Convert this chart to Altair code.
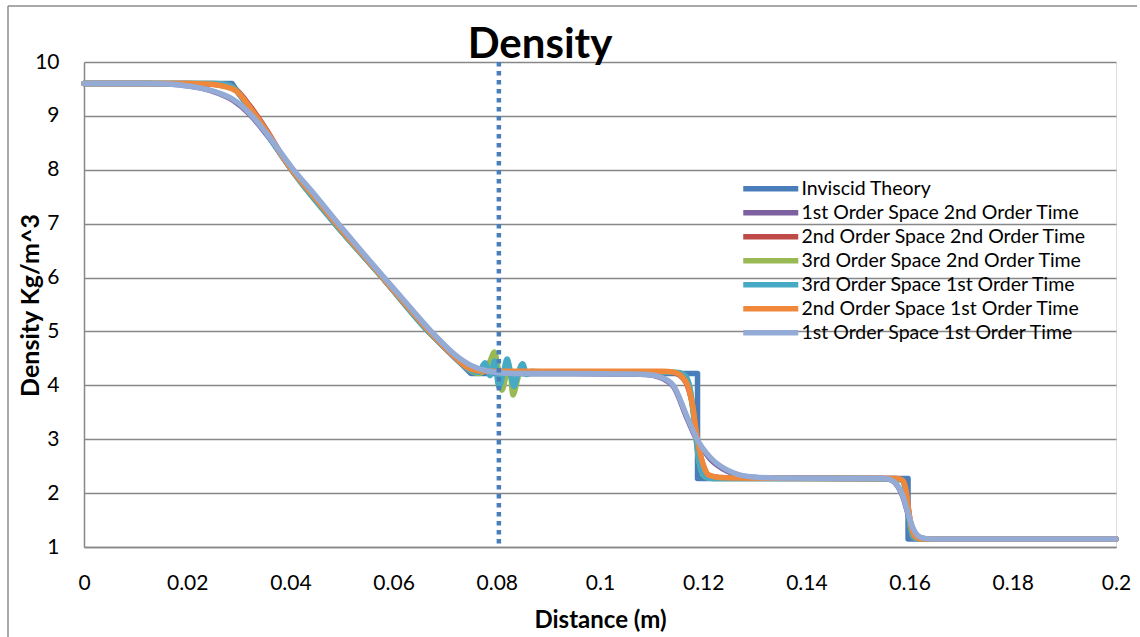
import altair as alt
import pandas as pd

# ---- data ----
series_names = [
    "Inviscid Theory",
    "1st Order Space 2nd Order Time",
    "2nd Order Space 2nd Order Time",
    "3rd Order Space 2nd Order Time",
    "3rd Order Space 1st Order Time",
    "2nd Order Space 1st Order Time",
    "1st Order Space 1st Order Time",
]
series_colors = ["#4A7EBB", "#7D60A0", "#BE4B48", "#98B954", "#46AAC5", "#F0883C", "#94ABD5"]

x_inv = [0, 0.0287, 0.0331, 0.0386, 0.0402, 0.0486, 0.0578, 0.0667, 0.0712, 0.0750, 0.1189, 0.1189, 0.1597, 0.1597, 0.2]
y_inv = [9.6, 9.6, 9.0, 8.22, 8.0, 7.0, 6.0, 5.0, 4.58, 4.22, 4.22, 2.27, 2.27, 1.15, 1.15]

x_lb = [0, 0.012, 0.016, 0.019, 0.0225, 0.026, 0.029, 0.0322, 0.0355, 0.0386,
        0.0402, 0.044, 0.050, 0.056, 0.062, 0.068, 0.072, 0.075, 0.078, 0.081,
        0.085, 0.095, 0.105, 0.109, 0.1115, 0.113, 0.1142, 0.1169, 0.1188, 0.1213,
        0.1246, 0.127, 0.130, 0.134, 0.150, 0.155, 0.1565, 0.1578, 0.1587, 0.1597,
        0.1607, 0.1616, 0.1628, 0.165, 0.2]
y_lb = [9.6, 9.6, 9.59, 9.57, 9.52, 9.43, 9.3, 9.04, 8.66, 8.26,
        8.05, 7.62, 6.92, 6.24, 5.58, 4.93, 4.56, 4.37, 4.27, 4.23,
        4.22, 4.22, 4.21, 4.2, 4.16, 4.1, 4.0, 3.41, 3.0, 2.67,
        2.43, 2.34, 2.3, 2.28, 2.27, 2.27, 2.24, 2.12, 1.95, 1.63,
        1.34, 1.21, 1.16, 1.15, 1.15]

x_pu = x_lb
y_pu = [9.6, 9.6, 9.59, 9.57, 9.52, 9.42, 9.28, 9.02, 8.64, 8.24,
        8.03, 7.6, 6.9, 6.22, 5.56, 4.91, 4.54, 4.35, 4.26, 4.23,
        4.22, 4.22, 4.21, 4.2, 4.15, 4.08, 3.98, 3.38, 2.98, 2.64,
        2.41, 2.33, 2.29, 2.28, 2.27, 2.27, 2.24, 2.11, 1.93, 1.61,
        1.32, 1.2, 1.16, 1.15, 1.15]

x_or = [0, 0.020, 0.024, 0.027, 0.0295, 0.0322, 0.0355, 0.0386, 0.0402, 0.044,
        0.050, 0.056, 0.062, 0.068, 0.072, 0.074, 0.0765, 0.079, 0.085, 0.105,
        0.112, 0.1145, 0.116, 0.117, 0.118, 0.1187, 0.1195, 0.1203, 0.121, 0.123,
        0.126, 0.150, 0.1575, 0.1588, 0.1594, 0.1598, 0.1603, 0.161, 0.162, 0.2]
y_or = [9.6, 9.6, 9.59, 9.55, 9.46, 9.15, 8.70, 8.23, 8.01, 7.57,
        6.87, 6.21, 5.54, 4.89, 4.52, 4.35, 4.27, 4.26, 4.26, 4.26,
        4.26, 4.24, 4.15, 4.0, 3.6, 3.1, 2.7, 2.45, 2.34, 2.29,
        2.28, 2.27, 2.27, 2.22, 2.0, 1.7, 1.4, 1.2, 1.15, 1.15]

x_rd = x_or
y_rd = [9.6, 9.6, 9.59, 9.56, 9.48, 9.18, 8.72, 8.23, 8.0, 7.56,
        6.86, 6.2, 5.53, 4.88, 4.5, 4.33, 4.25, 4.25, 4.25, 4.25,
        4.25, 4.23, 4.14, 3.98, 3.58, 3.08, 2.68, 2.44, 2.33, 2.29,
        2.28, 2.27, 2.27, 2.22, 1.98, 1.68, 1.38, 1.19, 1.15, 1.15]

x_gr = [0, 0.025, 0.0275, 0.029, 0.031, 0.0331, 0.0386, 0.0402, 0.0486, 0.0578,
        0.0667, 0.0712, 0.0745, 0.0765, 0.0778, 0.0787, 0.0795, 0.0803, 0.0810, 0.0816,
        0.0822, 0.0827, 0.0831, 0.0840, 0.0848, 0.0856, 0.0864, 0.090, 0.110, 0.115,
        0.1165, 0.1175, 0.1183, 0.1190, 0.1196, 0.1202, 0.121, 0.123, 0.150, 0.1585,
        0.1592, 0.1597, 0.1602, 0.1608, 0.1615, 0.2]
y_gr = [9.6, 9.6, 9.58, 9.52, 9.3, 9.01, 8.23, 8.0, 7.0, 6.0,
        5.0, 4.59, 4.3, 4.22, 4.3, 4.45, 4.62, 4.3, 3.91, 4.1,
        4.4, 4.2, 3.82, 4.1, 4.38, 4.2, 4.22, 4.25, 4.25, 4.24,
        4.18, 3.9, 3.3, 2.7, 2.42, 2.32, 2.28, 2.27, 2.27, 2.25,
        2.05, 1.7, 1.35, 1.18, 1.15, 1.15]

x_te = [0, 0.025, 0.0275, 0.029, 0.031, 0.0331, 0.0386, 0.0402, 0.0486, 0.0578,
        0.0667, 0.0712, 0.0745, 0.0765, 0.0777, 0.0787, 0.0796, 0.0804, 0.0812, 0.0820,
        0.0827, 0.0833, 0.0841, 0.0850, 0.0858, 0.0866, 0.090, 0.110, 0.115, 0.1165,
        0.1175, 0.1183, 0.1190, 0.1196, 0.1202, 0.121, 0.123, 0.150, 0.1585, 0.1592,
        0.1597, 0.1602, 0.1608, 0.1615, 0.2]
y_te = [9.6, 9.6, 9.58, 9.51, 9.28, 9.0, 8.22, 8.0, 7.0, 6.0,
        5.0, 4.58, 4.3, 4.24, 4.42, 4.18, 4.45, 3.97, 4.2, 4.49,
        4.2, 3.98, 4.2, 4.40, 4.2, 4.26, 4.24, 4.25, 4.24, 4.18,
        3.92, 3.32, 2.72, 2.43, 2.33, 2.28, 2.27, 2.27, 2.25, 2.06,
        1.72, 1.36, 1.19, 1.15, 1.15]

marker_x = 0.0804
x_ticks = [0, 0.02, 0.04, 0.06, 0.08, 0.1, 0.12, 0.14, 0.16, 0.18, 0.2]
y_ticks = [1, 2, 3, 4, 5, 6, 7, 8, 9, 10]
chart_title = "Density"

# ---- build table ----
series_xy = {
    series_names[0]: (x_inv, y_inv),
    series_names[1]: (x_pu, y_pu),
    series_names[2]: (x_rd, y_rd),
    series_names[3]: (x_gr, y_gr),
    series_names[4]: (x_te, y_te),
    series_names[5]: (x_or, y_or),
    series_names[6]: (x_lb, y_lb),
}
rows = []
for name, (xs, ys) in series_xy.items():
    for i, (a, b) in enumerate(zip(xs, ys)):
        rows.append({"x": a, "y": b, "series": name, "i": i})
df = pd.DataFrame(rows)

FONT = "Lato"
GRID = "#878787"

color = alt.Color(
    "series:N",
    scale=alt.Scale(domain=series_names, range=series_colors),
    legend=alt.Legend(
        orient="none", legendX=677, legendY=117, title=None,
        symbolType="M-5,0H5", symbolSize=121, symbolStrokeWidth=5.5,
        labelFont=FONT, labelFontSize=19.5, labelColor="#000000",
        labelOffset=21, rowPadding=1, labelLimit=500,
    ),
)
xenc = alt.X(
    "x:Q",
    scale=alt.Scale(domain=[0, 0.2], nice=False, zero=False),
    axis=alt.Axis(
        values=x_ticks, format="~g", grid=False, tickSize=0,
        domainColor=GRID, domainWidth=1.5,
        labelFont=FONT, labelFontSize=21, labelColor="#000000",
        labelPadding=36, labelBaseline="middle", labelFlush=False,
        title="Distance (m)", titleFont=FONT, titleFontSize=24, titleFontWeight="bold",
        titleColor="#000000", titleY=73, titleBaseline="middle",
    ),
)
yenc = alt.Y(
    "y:Q",
    scale=alt.Scale(domain=[1, 10], nice=False, zero=False),
    axis=alt.Axis(
        values=y_ticks, format="d", grid=True, gridColor=GRID, gridWidth=1.5, tickSize=0,
        domainColor=GRID, domainWidth=1.5,
        labelFont=FONT, labelFontSize=21, labelColor="#000000", labelPadding=25,
        title="Density Kg/m^3", titleFont=FONT, titleFontSize=25, titleFontWeight="bold",
        titleColor="#000000", titleX=-54, titleY=243, titleAngle=270,
        titleBaseline="middle", titleAlign="center",
    ),
)

base = alt.Chart(df)
layers = []
for k, name in enumerate(series_names):  # drawn in this order, last on top
    interp = "linear" if k == 0 else "monotone"
    layers.append(
        base.transform_filter(alt.datum.series == name)
        .mark_line(strokeWidth=5.5, strokeCap="round", strokeJoin="round", interpolate=interp)
        .encode(x=xenc, y=yenc, color=color, order="i:Q")
    )

marker = alt.Chart(pd.DataFrame({"x": [marker_x], "y": [10], "y2": [1]})).mark_rule(
    color="#4A7EBB", strokeWidth=4.5, strokeDash=[4.5, 4.5]
).encode(x="x:Q", y="y:Q", y2="y2:Q")

frame_data = alt.Data(values=[{"a": 1}])
frame_left = alt.Chart(frame_data).mark_rule(color="#8c8c8c", strokeWidth=1.5).encode(
    x=alt.value(-76), y=alt.value(-56), y2=alt.value(600)
)
frame_top = alt.Chart(frame_data).mark_rule(color="#8c8c8c", strokeWidth=1.5).encode(
    x=alt.value(-76), x2=alt.value(1053), y=alt.value(-56)
)
title_text = alt.Chart(frame_data).mark_text(
    font=FONT, fontSize=42, fontWeight="bold", color="#000000",
    align="center", baseline="alphabetic",
).encode(x=alt.value(456), y=alt.value(-4), text=alt.value(chart_title))

chart = alt.layer(frame_left, frame_top, *layers, marker, title_text).properties(
    width=1032, height=485,
    autosize=alt.AutoSizeParams(type="none"),
    padding={"left": 84, "top": 62, "right": 24, "bottom": 90},
).configure_view(stroke=None).configure(background="#ffffff")

chart.save("out.html", embed_options={"renderer": "svg", "actions": False})
